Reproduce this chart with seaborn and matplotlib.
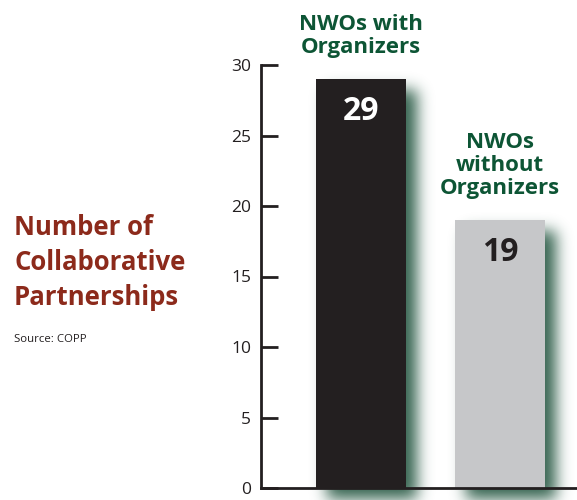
import numpy as np
import matplotlib
matplotlib.use("Agg")
import matplotlib.pyplot as plt
from matplotlib.patches import Rectangle
import seaborn as sns

# Data
categories = ["NWOs with\nOrganizers", "NWOs\nwithout\nOrganizers"]
partnerships = [29, 19]
y_ticks = [0, 5, 10, 15, 20, 25, 30]

bar_colors = ["#231f20", "#c6c7c9"]
value_colors = ["white", "#231f20"]
green = "#0d5535"
rust = "#8c2a1b"
shadow_rgb = matplotlib.colors.to_rgb("#2a5b46")

sns.set_theme(style="white")
plt.rcParams["font.family"] = ["Open Sans", "DejaVu Sans"]


class SoftShadow:
    """agg filter: blurred, offset copy of an artist's alpha in a flat colour."""

    def __init__(self, sigma, dx, dy, rgb, strength=1.0):
        self.sigma, self.dx, self.dy = sigma, dx, dy
        self.rgb, self.strength = rgb, strength

    def __call__(self, im, dpi):
        r = int(3 * self.sigma)
        pad = r + max(abs(self.dx), abs(self.dy))
        a = np.pad(im[..., 3], pad)
        k = np.exp(-0.5 * (np.arange(-r, r + 1) / self.sigma) ** 2)
        k /= k.sum()
        a = np.apply_along_axis(lambda m: np.convolve(m, k, mode="same"), 0, a)
        a = np.apply_along_axis(lambda m: np.convolve(m, k, mode="same"), 1, a)
        out = np.zeros(a.shape + (4,))
        out[..., :3] = self.rgb
        out[..., 3] = np.clip(a * self.strength, 0, 1)
        return out, -pad + self.dx, -pad - self.dy


fig = plt.figure(figsize=(5.77, 5.0), dpi=100)
ax = fig.add_axes([261 / 577, 12 / 500, 316 / 577, 423 / 500])

sns.barplot(x=categories, y=partnerships, hue=categories, palette=bar_colors,
            saturation=1, width=0.643, legend=False, ax=ax, zorder=2,
            edgecolor="none", linewidth=0)

ax.set_xlim(-0.714, 1.55)
ax.set_ylim(0, 30)
ax.set_yticks(y_ticks)
ax.set_xticks([])
ax.set_xlabel("")
ax.set_ylabel("")
ax.tick_params(axis="y", direction="in", length=12, width=2, color="#231f20",
               labelsize=12.5, labelcolor="#231f20", pad=7, left=True)
for side in ("top", "right"):
    ax.spines[side].set_visible(False)
for side in ("left", "bottom"):
    ax.spines[side].set_color("#231f20")
    ax.spines[side].set_linewidth(2)
    ax.spines[side].set_zorder(3)

# soft green drop shadows behind each bar
for bar in list(ax.patches):
    sh = Rectangle(bar.get_xy(), bar.get_width(), bar.get_height(),
                   facecolor="black", edgecolor="none", zorder=1,
                   clip_on=False, transform=ax.transData)
    sh.set_agg_filter(SoftShadow(sigma=7.5, dx=11, dy=11, rgb=shadow_rgb,
                                 strength=0.95))
    ax.add_patch(sh)

# values inside bars and category labels above
for i, (cat, val) in enumerate(zip(categories, partnerships)):
    ax.annotate(str(val), (i, val), xytext=(0, -23), textcoords="offset points",
                ha="center", va="center", fontsize=23, fontweight="bold",
                color=value_colors[i])
    ax.annotate(cat, (i, val), xytext=(0, 15), textcoords="offset points",
                ha="center", va="bottom", fontsize=16, fontweight="bold",
                color=green, linespacing=1.13, annotation_clip=False)

fig.text(14 / 577, 1 - 214 / 500, "Number of\nCollaborative\nPartnerships",
         ha="left", va="top", fontsize=18.5, fontweight="bold", color=rust,
         linespacing=1.38)
fig.text(14 / 577, 1 - 340 / 500, "Source: COPP", ha="left", va="center",
         fontsize=8.2, color="#231f20")

fig.savefig("out.png", dpi=100, facecolor="white")
